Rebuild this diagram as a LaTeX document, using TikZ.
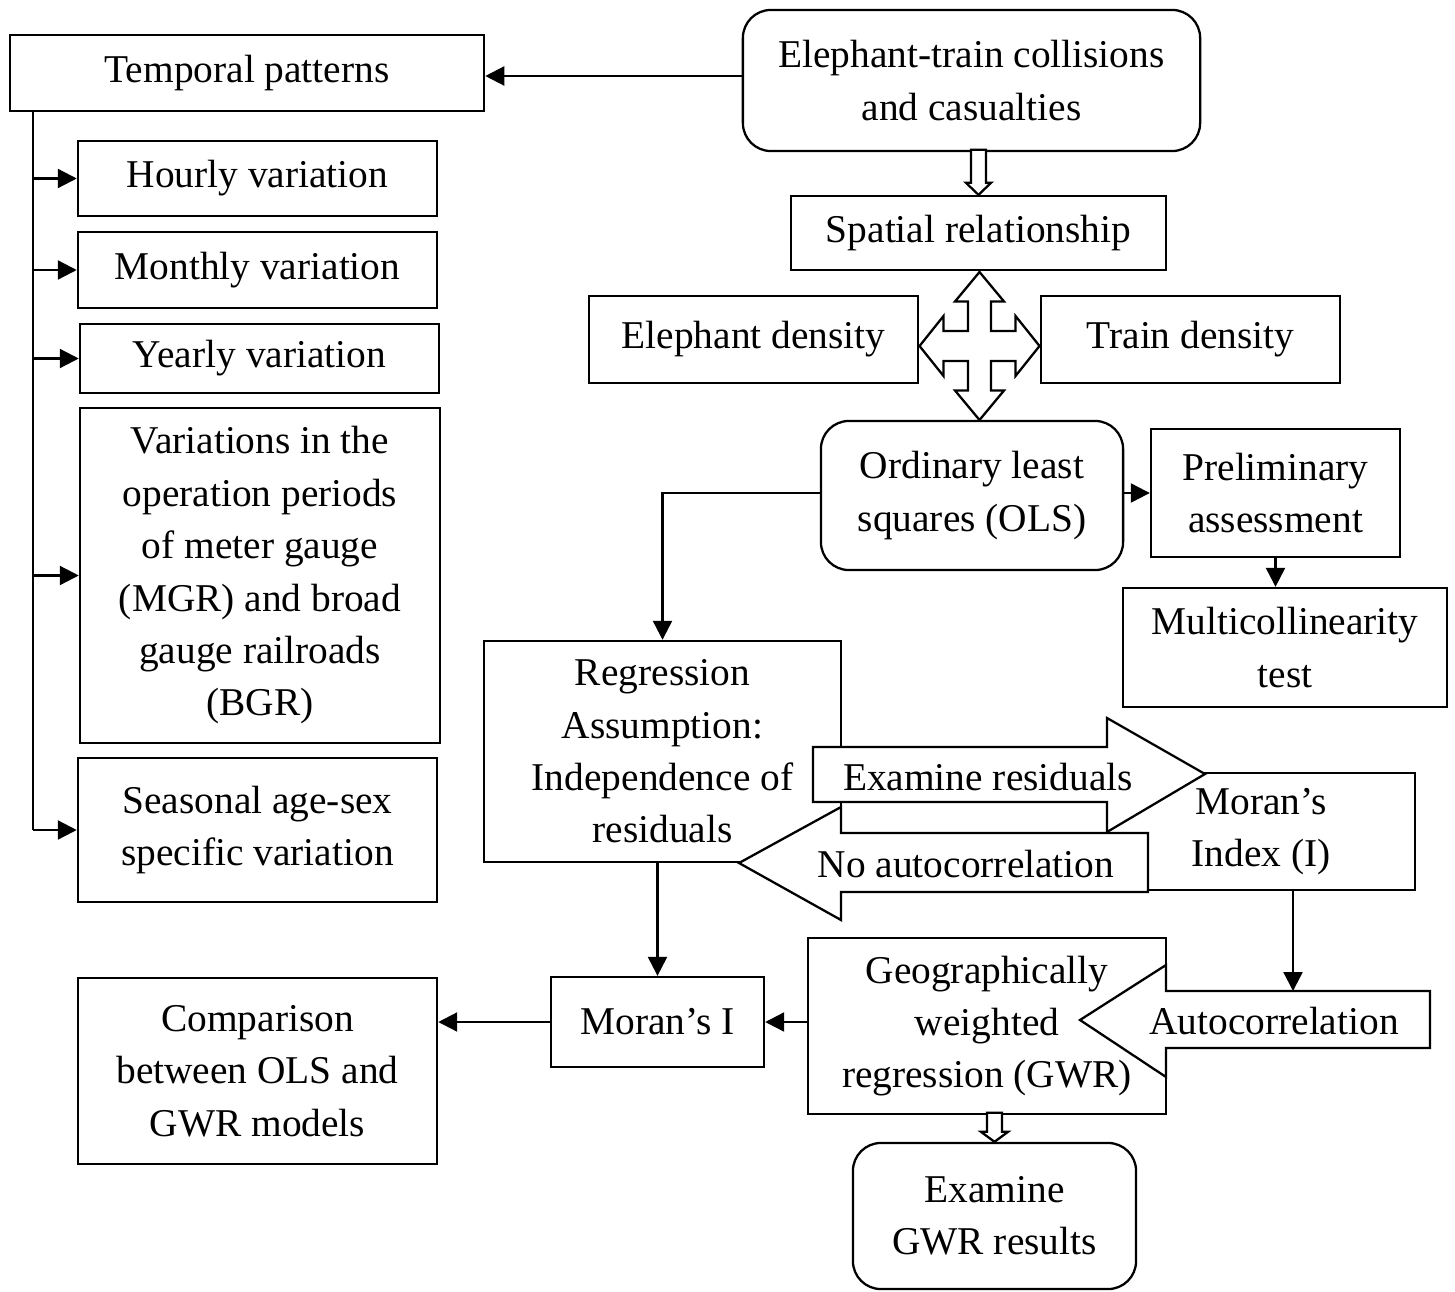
\documentclass[tikz,border=0pt]{standalone}
\usepackage{fontspec}
\setmainfont{Liberation Serif}
\usetikzlibrary{arrows.meta, calc}

\begin{document}
\begin{tikzpicture}[
        x=0.01cm, y=-0.01cm,
        box/.style={rectangle, draw, align=center, inner sep=0pt},
        roundbox/.style={box, rounded corners=0.28cm},
        blockarrow/.style={draw, fill=white},
        >={Triangle[length=5.4pt, width=5.4pt]},
        line width=0.65pt,
        font=\fontsize{11.2}{14.9}\selectfont
      ]
      \useasboundingbox (0,0) rectangle (1455,1291);

      % Temporal branch
      \node[box, minimum width=4.74cm, minimum height=0.76cm] (temporal) at (247,73) {Temporal patterns};
      \node[box, minimum width=3.59cm, minimum height=0.75cm] (hourly) at (257.5,178.5) {Hourly variation};
      \node[box, minimum width=3.59cm, minimum height=0.76cm] (monthly) at (257.5,270) {Monthly variation};
      \node[box, minimum width=3.59cm, minimum height=0.69cm] (yearly) at (259.5,358.5) {Yearly variation};
      \node[box, minimum width=3.60cm, minimum height=3.35cm] (periods) at (260,575.5) {Variations in the\\operation periods\\of meter gauge\\(MGR) and broad\\gauge railroads\\(BGR)};
      \node[box, minimum width=3.59cm, minimum height=1.44cm] (seasonal) at (257.5,830) {Seasonal age-sex\\specific variation};

      % Spatial branch
      \node[roundbox, minimum width=4.57cm, minimum height=1.41cm] (collision) at (971.5,80.5) {Elephant-train collisions\\and casualties};
      \node[box, minimum width=3.75cm, minimum height=0.74cm] (spatial) at (978.5,233) {Spatial relationship};
      \node[box, minimum width=3.29cm, minimum height=0.87cm] (eledens) at (753.5,339.5) {Elephant density};
      \node[box, minimum width=2.99cm, minimum height=0.87cm] (traindens) at (1190.5,339.5) {Train density};
      \node[roundbox, minimum width=3.02cm, minimum height=1.49cm] (ols) at (972,495.5) {Ordinary least\\squares (OLS)};
      \node[box, minimum width=2.49cm, minimum height=1.28cm] (prelim) at (1275.5,493) {Preliminary\\assessment};
      \node[box, minimum width=3.24cm, minimum height=1.19cm] (multi) at (1285,647.5) {Multicollinearity\\test};

      % Residual checks
      \node[box, minimum width=3.57cm, minimum height=2.21cm] (regress) at (662.5,751.5) {Regression\\Assumption:\\Independence of\\residuals};
      \node[box, minimum width=3.08cm, minimum height=1.17cm] (moransidx) at (1261,831.5) {Moran’s\\Index (I)};
      \node[box, minimum width=3.58cm, minimum height=1.76cm] (gwr) at (987,1026) {Geographically\\weighted\\regression (GWR)};
      \node[box, minimum width=2.13cm, minimum height=0.90cm] (moransi) at (657.5,1022) {Moran’s I};
      \node[box, minimum width=3.59cm, minimum height=1.86cm] (compare) at (257.5,1071) {Comparison\\between OLS and\\GWR models};
      \node[roundbox, minimum width=2.83cm, minimum height=1.46cm] (results) at (994.5,1216) {Examine\\GWR results};

      % Block arrows
      \draw[blockarrow] (813,747) -- (1107,747) -- (1107,718) -- (1205,774) -- (1107,832) -- (1107,802) -- (813,802) -- cycle;
      \draw[blockarrow] (1148,833) -- (841,833) -- (841,807) -- (739,863) -- (841,920) -- (841,892) -- (1148,892) -- cycle;
      \draw[blockarrow] (1430,991) -- (1166,991) -- (1166,965) -- (1080,1020) -- (1166,1077) -- (1166,1048) -- (1430,1048) -- cycle;
      \node (exres) at (988,777) {Examine residuals};
      \node (noauto) at (966,864) {No autocorrelation};
      \node (autocorr) at (1274,1021) {Autocorrelation};

      % Hollow arrows
      \draw[blockarrow] (spatial.north) -- ++(-12.5,-12) -- ++(5,0) -- ++(0,-33) -- ++(15,0) -- ++(0,33) -- ++(5,0) -- cycle;
      \draw[blockarrow] (results.north) -- ++(-13.5,-10) -- ++(6,0) -- ++(0,-19) -- ++(15,0) -- ++(0,19) -- ++(6,0) -- cycle;
      \coordinate (hub) at (979.5,346);
      \draw[blockarrow, shift={(hub)}] (0,-74) -- (24.5,-44.5) -- (11.5,-44.5) -- (11.5,-15) -- (36,-15) -- (36,-30)
        -- (60,0) -- (36,30) -- (36,15) -- (11.5,15) -- (11.5,44.5) -- (24.5,44.5) -- (0,74) -- (-24.5,44.5)
        -- (-11.5,44.5) -- (-11.5,15) -- (-36,15) -- (-36,30) -- (-60,0) -- (-36,-30) -- (-36,-15) -- (-11.5,-15)
        -- (-11.5,-44.5) -- (-24.5,-44.5) -- cycle;

      % Connections
      \draw[->] (collision.west |- 0,76) -- (temporal.east |- 0,76);
      \coordinate (trunk) at (33,111);
      \draw (trunk) -- (trunk |- seasonal.west);
      \foreach \n in {hourly, monthly, yearly, periods, seasonal}
        \draw[->] (trunk |- \n.west) -- (\n.west);
      \draw[->] (ols.west |- prelim.west) -| (regress.north);
      \draw[->] (prelim.west -| ols.east) -- (prelim.west);
      \draw[->] (prelim.south) -- (prelim.south |- multi.north);
      \draw[->] (regress.south -| moransi.north) -- (moransi.north);
      \coordinate (acshaft) at (1293,991);
      \draw[->] (moransidx.south -| acshaft) -- (acshaft);
      \draw[->] (moransi.east -| gwr.west) -- (moransi.east);
      \draw[->] (moransi.west) -- (moransi.west -| compare.east);

      \end{tikzpicture}
\end{document}
